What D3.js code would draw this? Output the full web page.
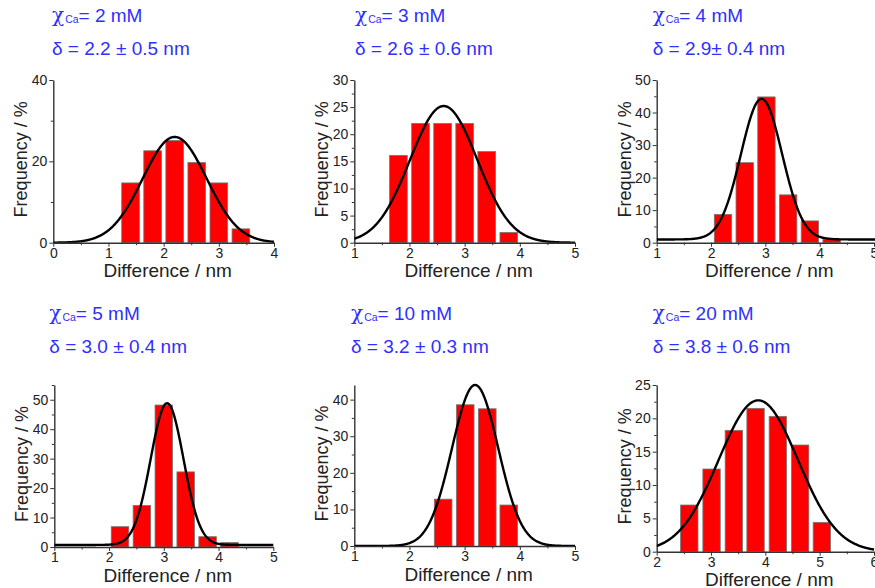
<!DOCTYPE html>
<html>
<head>
<meta charset="utf-8">
<script src="https://cdn.jsdelivr.net/npm/d3@7"></script>
<style>
  body { margin: 0; background: #fff; }
  text { font-family: "Liberation Sans", Arial, sans-serif; }
</style>
</head>
<body>
<svg id="chart" width="875" height="588"></svg>
<script>
// values
const concentrations = ["2", "3", "4", "5", "10", "20"];
const deltaLabels = ["2.2 ± 0.5", "2.6 ± 0.6", "2.9± 0.4", "3.0 ± 0.4", "3.2 ± 0.3", "3.8 ± 0.6"];
const binCenters = [
  [1.4, 1.8, 2.2, 2.6, 3.0, 3.4],
  [1.8, 2.2, 2.6, 3.0, 3.4, 3.8],
  [2.22, 2.62, 3.02, 3.42, 3.82, 4.22],
  [2.2, 2.6, 3.0, 3.4, 3.8, 4.2],
  [2.61, 3.01, 3.41, 3.8],
  [2.6, 3.01, 3.42, 3.82, 4.23, 4.64, 5.04]
];
const frequencies = [
  [14.7, 22.6, 25.1, 19.7, 14.7, 3.4],
  [16.1, 22.0, 22.0, 22.0, 16.8, 1.9],
  [8.7, 24.6, 44.8, 14.7, 6.7, 1.0],
  [6.9, 14.1, 48.2, 25.5, 3.5, 1.5],
  [12.8, 38.6, 37.5, 11.2],
  [7.0, 12.4, 18.2, 21.5, 20.3, 16.0, 4.4]
];
// gaussian fit for each histogram
const fitCenter = [2.2, 2.62, 2.93, 3.06, 3.19, 3.87];
const fitSigma = [0.58, 0.61, 0.38, 0.3, 0.42, 0.73];
const fitPeak = [26, 25.2, 43.2, 48.1, 44, 22.7];
const fitOffset = [0, 0, 1.0, 0.7, 0, 0];
const xDomains = [[0, 4], [1, 5], [1, 5], [1, 5], [1, 5], [2, 6]];
const yDomains = [[0, 40], [0, 30], [0, 50], [0, 55], [0, 44], [0, 25]];
const yTickSteps = [20, 5, 10, 10, 10, 5];
const binWidth = 0.32;

// where each panel sits on the page
const panels = [
  { left: 53.3, right: 274, top: 80, bottom: 242.7, textX: 52, textY: 15 },
  { left: 354.3, right: 575, top: 80, bottom: 242.7, textX: 355, textY: 15 },
  { left: 656.7, right: 874, top: 80, bottom: 242.7, textX: 652.7, textY: 15 },
  { left: 54.3, right: 273.3, top: 385, bottom: 547, textX: 49.3, textY: 313 },
  { left: 354.3, right: 575, top: 385, bottom: 546, textX: 351, textY: 313 },
  { left: 656.7, right: 874, top: 385, bottom: 551.7, textX: 652.7, textY: 313 }
];

const blue = "#2f2fff";
const axisColor = "#333";

const svg = d3.select("#chart");

panels.forEach((p, i) => {
  const x = d3.scaleLinear().domain(xDomains[i]).range([p.left, p.right]);
  const y = d3.scaleLinear().domain(yDomains[i]).range([p.bottom, p.top]);
  const g = svg.append("g");

  // annotations
  const t1 = g.append("text")
    .attr("x", p.textX).attr("y", p.textY)
    .attr("dominant-baseline", "central")
    .attr("fill", blue).style("font-size", "19px");
  t1.append("tspan").style("font-family", "'DejaVu Serif', serif").style("font-size", "20px").text("χ");
  t1.append("tspan").attr("dy", 4).attr("dx", 1).style("font-size", "10.5px").text("Ca");
  t1.append("tspan").attr("dy", -4).text(`= ${concentrations[i]} mM`);

  g.append("text")
    .attr("x", p.textX).attr("y", p.textY + 33.5)
    .attr("dominant-baseline", "central")
    .attr("fill", blue).style("font-size", "19px")
    .text(`δ = ${deltaLabels[i]} nm`);

  // bars
  g.selectAll("rect.bar")
    .data(binCenters[i].map((c, k) => ({ c, f: frequencies[i][k] })))
    .enter().append("rect")
    .attr("class", "bar")
    .attr("x", d => x(d.c - binWidth / 2))
    .attr("width", d => x(d.c + binWidth / 2) - x(d.c - binWidth / 2))
    .attr("y", d => y(d.f))
    .attr("height", d => y(0) - y(d.f))
    .attr("fill", "#ff0000")
    .attr("stroke", "#777")
    .attr("stroke-width", 0.8);

  // axes
  const [x0, x1] = xDomains[i];
  const [ymin, ymax] = yDomains[i];
  const step = yTickSteps[i];
  const yMajor = d3.range(ymin, ymax + 0.001, step);
  const yMinor = d3.range(ymin + step / 2, ymax + 0.001, step);
  const xMajor = d3.range(x0, x1 + 0.001, 1);
  const xMinor = d3.range(x0 + 0.5, x1, 1);

  g.append("g")
    .attr("transform", `translate(${p.left},0)`)
    .call(d3.axisLeft(y).tickValues(yMajor).tickSize(4).tickSizeOuter(0).tickPadding(2).tickFormat(d3.format("d")));
  g.append("g")
    .attr("transform", `translate(${p.left},0)`)
    .call(d3.axisLeft(y).tickValues(yMinor).tickSize(2.5).tickFormat(""))
    .call(a => a.select(".domain").remove());

  g.append("g")
    .attr("transform", `translate(0,${p.bottom})`)
    .call(d3.axisBottom(x).tickValues(xMajor).tickSize(4).tickSizeOuter(0).tickPadding(1.5).tickFormat(d3.format("d")));
  g.append("g")
    .attr("transform", `translate(0,${p.bottom})`)
    .call(d3.axisBottom(x).tickValues(xMinor).tickSize(2.5).tickFormat(""))
    .call(a => a.select(".domain").remove());

  g.selectAll(".domain").attr("stroke", axisColor).attr("stroke-width", 1.4);
  g.selectAll(".tick line").attr("stroke", axisColor).attr("stroke-width", 1);
  g.selectAll(".tick text").attr("fill", "#222").style("font-size", "14px")
    .style("font-family", "'Liberation Sans', Arial, sans-serif");

  // fitted curve
  const clipId = `clip-${i}`;
  svg.append("clipPath").attr("id", clipId)
    .append("rect")
    .attr("x", p.left).attr("y", p.top - 10)
    .attr("width", 875 - p.left).attr("height", p.bottom - p.top + 10);

  const gauss = v => fitOffset[i] + fitPeak[i] * Math.exp(-((v - fitCenter[i]) ** 2) / (2 * fitSigma[i] ** 2));
  const xs = d3.range(x0, (i === 2 ? x1 + 0.03 : x1) + 0.0001, 0.01);
  g.append("path")
    .datum(xs)
    .attr("clip-path", `url(#${clipId})`)
    .attr("fill", "none")
    .attr("stroke", "#000")
    .attr("stroke-width", 2.4)
    .attr("stroke-linejoin", "round")
    .attr("d", d3.line().x(v => x(v)).y(v => y(gauss(v))));

  // axis titles
  g.append("text")
    .attr("x", (p.left + p.right) / 2 + 4)
    .attr("y", p.bottom + 28)
    .attr("text-anchor", "middle")
    .attr("dominant-baseline", "central")
    .attr("fill", "#222")
    .style("font-size", "19px")
    .text("Difference / nm");

  g.append("text")
    .attr("transform", `translate(${p.left - 32},${(p.top + p.bottom) / 2 - 2}) rotate(-90)`)
    .attr("text-anchor", "middle")
    .attr("dominant-baseline", "central")
    .attr("fill", "#222")
    .style("font-size", "18px")
    .text("Frequency / %");
});
</script>
</body>
</html>
